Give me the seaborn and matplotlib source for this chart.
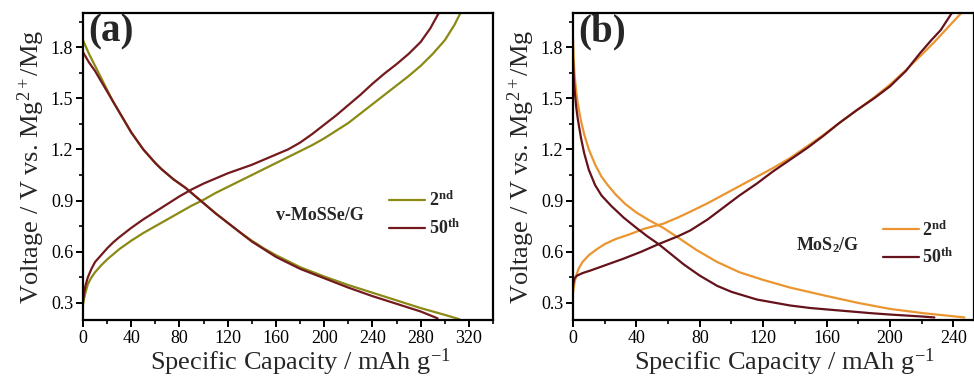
import numpy as np
import pandas as pd
import matplotlib
matplotlib.use("Agg")
import matplotlib.pyplot as plt
import seaborn as sns
from matplotlib.ticker import MultipleLocator, FormatStrFormatter
from matplotlib.lines import Line2D

# ---- v-MoSSe/G galvanostatic profiles ----
a2_dis_cap = [0, 5, 10, 15, 20, 25, 30, 35, 40, 45, 50, 55, 60, 65, 70, 75, 80, 85, 90, 95, 100, 110, 120, 130, 140, 150, 160, 180, 200, 220, 240, 260, 280, 300, 312]
a2_dis_v = [1.84, 1.76, 1.69, 1.62, 1.55, 1.48, 1.42, 1.36, 1.30, 1.25, 1.20, 1.16, 1.12, 1.085, 1.055, 1.025, 1.0, 0.975, 0.945, 0.915, 0.885, 0.825, 0.77, 0.715, 0.665, 0.62, 0.58, 0.51, 0.455, 0.405, 0.36, 0.315, 0.27, 0.23, 0.205]
a2_chg_cap = [0, 1, 2, 4, 7, 10, 15, 20, 25, 30, 40, 50, 60, 70, 80, 90, 100, 110, 120, 130, 140, 150, 160, 170, 180, 190, 200, 210, 220, 230, 240, 250, 260, 270, 280, 290, 300, 308, 313]
a2_chg_v = [0.29, 0.33, 0.36, 0.41, 0.45, 0.48, 0.52, 0.555, 0.585, 0.615, 0.665, 0.71, 0.75, 0.79, 0.83, 0.87, 0.905, 0.945, 0.98, 1.015, 1.05, 1.085, 1.12, 1.155, 1.19, 1.225, 1.265, 1.31, 1.355, 1.41, 1.465, 1.52, 1.575, 1.63, 1.69, 1.76, 1.84, 1.93, 2.0]

a50_dis_cap = [0, 5, 10, 15, 20, 25, 30, 35, 40, 45, 50, 55, 60, 65, 70, 75, 80, 85, 90, 95, 100, 110, 120, 130, 140, 150, 160, 180, 200, 220, 240, 260, 280, 294]
a50_dis_v = [1.77, 1.71, 1.66, 1.60, 1.54, 1.48, 1.42, 1.36, 1.30, 1.25, 1.20, 1.16, 1.12, 1.085, 1.055, 1.025, 1.0, 0.975, 0.945, 0.915, 0.885, 0.825, 0.77, 0.715, 0.66, 0.615, 0.57, 0.50, 0.445, 0.39, 0.34, 0.295, 0.25, 0.21]
a50_chg_cap = [0, 1, 2, 4, 7, 10, 15, 20, 25, 30, 40, 50, 60, 70, 80, 90, 100, 110, 120, 130, 140, 150, 160, 170, 180, 190, 200, 210, 220, 230, 240, 250, 260, 270, 280, 288, 295]
a50_chg_v = [0.31, 0.36, 0.40, 0.45, 0.50, 0.54, 0.58, 0.62, 0.655, 0.685, 0.74, 0.79, 0.835, 0.88, 0.925, 0.965, 1.0, 1.03, 1.06, 1.085, 1.11, 1.14, 1.17, 1.20, 1.24, 1.29, 1.345, 1.40, 1.46, 1.52, 1.585, 1.645, 1.70, 1.76, 1.83, 1.91, 2.0]

# ---- MoS2/G galvanostatic profiles ----
b2_dis_cap = [0, 0.5, 1, 2, 3, 5, 7, 10, 14, 18, 22, 27, 33, 40, 48, 57, 66, 78, 91, 105, 120, 137, 158, 180, 200, 221, 247]
b2_dis_v = [1.85, 1.72, 1.64, 1.54, 1.47, 1.37, 1.29, 1.20, 1.11, 1.04, 0.99, 0.935, 0.88, 0.83, 0.785, 0.74, 0.685, 0.61, 0.54, 0.48, 0.435, 0.39, 0.345, 0.30, 0.265, 0.24, 0.215]
b2_chg_cap = [0, 1, 2, 3.5, 6, 10, 15, 20, 27, 35, 45, 57, 66, 74, 85, 95, 105, 116, 126, 137, 148, 158, 168, 179, 190, 200, 210, 221, 228, 234, 240, 245]
b2_chg_v = [0.36, 0.42, 0.46, 0.50, 0.54, 0.58, 0.615, 0.645, 0.675, 0.70, 0.735, 0.765, 0.80, 0.835, 0.885, 0.935, 0.985, 1.04, 1.09, 1.15, 1.22, 1.285, 1.355, 1.43, 1.505, 1.58, 1.665, 1.765, 1.83, 1.89, 1.95, 2.0]

b50_dis_cap = [0, 0.5, 1, 2, 3, 5, 7, 10, 14, 18, 24, 32, 40, 47, 54, 62, 70, 80, 91, 100, 116, 137, 150, 169, 188, 200, 221, 228]
b50_dis_v = [1.73, 1.62, 1.55, 1.45, 1.38, 1.27, 1.18, 1.08, 0.99, 0.93, 0.87, 0.80, 0.74, 0.69, 0.645, 0.585, 0.525, 0.46, 0.40, 0.365, 0.32, 0.285, 0.27, 0.255, 0.24, 0.232, 0.22, 0.215]
b50_chg_cap = [0, 0.5, 1, 2.5, 6, 11, 20, 32, 43, 54, 66, 74, 85, 95, 105, 116, 126, 137, 148, 158, 168, 179, 190, 200, 210, 219, 226, 232, 239]
b50_chg_v = [0.40, 0.43, 0.445, 0.46, 0.475, 0.49, 0.52, 0.56, 0.60, 0.645, 0.69, 0.725, 0.79, 0.86, 0.93, 1.0, 1.07, 1.14, 1.21, 1.28, 1.355, 1.43, 1.50, 1.57, 1.66, 1.765, 1.84, 1.90, 2.0]

cycles = ["2nd", "50th"]
cycle_labels = [r"$\mathbf{2^{nd}}$", r"$\mathbf{50^{th}}$"]


def profile_frame(curves):
    rows = []
    for cycle, branch, cap, volt in curves:
        for c, v in zip(cap, volt):
            rows.append({"capacity": c, "voltage": v, "cycle": cycle, "branch": branch})
    return pd.DataFrame(rows)


df_a = profile_frame([
    ("2nd", "discharge", a2_dis_cap, a2_dis_v),
    ("2nd", "charge", a2_chg_cap, a2_chg_v),
    ("50th", "discharge", a50_dis_cap, a50_dis_v),
    ("50th", "charge", a50_chg_cap, a50_chg_v),
])
df_b = profile_frame([
    ("2nd", "discharge", b2_dis_cap, b2_dis_v),
    ("2nd", "charge", b2_chg_cap, b2_chg_v),
    ("50th", "discharge", b50_dis_cap, b50_dis_v),
    ("50th", "charge", b50_chg_cap, b50_chg_v),
])

sns.set_theme(style="ticks")
plt.rcParams["font.family"] = ["Liberation Serif", "DejaVu Serif"]
plt.rcParams["mathtext.fontset"] = "custom"
plt.rcParams["mathtext.rm"] = "Liberation Serif"
plt.rcParams["mathtext.it"] = "Liberation Serif:italic"
plt.rcParams["mathtext.bf"] = "Liberation Serif:bold"
plt.rcParams["lines.solid_joinstyle"] = "round"

pal_a = {"2nd": "#8a8a14", "50th": "#741a1e"}
pal_b = {"2nd": "#eb9530", "50th": "#65121a"}

fig = plt.figure(figsize=(9.74, 3.83), dpi=100)
ax_a = fig.add_axes([83 / 974, 1 - 320 / 383, 410 / 974, 307 / 383])
ax_b = fig.add_axes([573 / 974, 1 - 320 / 383, 401 / 974, 307 / 383])

panels = [
    (ax_a, df_a, pal_a, (0, 340), "(a)", "v-MoSSe/G", (0.578, 0.342), (0.746, 0.42), 0.53),
    (ax_b, df_b, pal_b, (0, 253), "(b)", r"MoS$_\mathbf{2}$/G", (0.635, 0.244), (0.772, 0.325), 0.528),
]

for ax, df, pal, xlim, tag, material, mpos, lpos, xlab_x in panels:
    sns.lineplot(data=df, x="capacity", y="voltage", hue="cycle", units="branch",
                 estimator=None, sort=False, palette=pal, linewidth=1.6,
                 legend=False, ax=ax)
    ax.set_xlim(*xlim)
    ax.set_ylim(0.2, 2.0)
    ax.xaxis.set_major_locator(MultipleLocator(40))
    ax.xaxis.set_minor_locator(MultipleLocator(20))
    ax.yaxis.set_major_locator(MultipleLocator(0.3))
    ax.yaxis.set_minor_locator(MultipleLocator(0.15))
    ax.tick_params(which="major", direction="out", length=5, width=1.4,
                   labelsize=13, pad=2, color="black", labelcolor="black")
    ax.tick_params(which="minor", direction="out", length=3, width=1.2, color="black")
    ax.yaxis.set_major_formatter(FormatStrFormatter("%.1f"))
    for sp in ax.spines.values():
        sp.set_linewidth(1.6)
        sp.set_color("black")
    ax.set_xlabel(r"Specific Capacity / mAh g$^{\mathregular{-1}}$", fontsize=19)
    ax.xaxis.set_label_coords(xlab_x, -0.085, transform=ax.transAxes)
    ax.xaxis.label.set_va("top")
    ax.set_ylabel(r"Voltage / V vs. Mg$^{\mathregular{2+}}$/Mg", fontsize=19, labelpad=3)
    ax.text(0.012, 0.998, tag, transform=ax.transAxes, fontsize=28,
            fontweight="bold", va="top", ha="left")
    ax.text(mpos[0], mpos[1], material, transform=ax.transAxes, fontsize=13,
            fontweight="bold", ha="center", va="center")
    handles = [Line2D([], [], color=pal[c], lw=1.6) for c in cycles]
    ax.legend(handles, cycle_labels, loc="upper left", bbox_to_anchor=lpos,
              frameon=False, fontsize=13, handlelength=2.0, handletextpad=0.2,
              labelspacing=0.45, borderaxespad=0, borderpad=0)

fig.savefig("out.png", dpi=100)
